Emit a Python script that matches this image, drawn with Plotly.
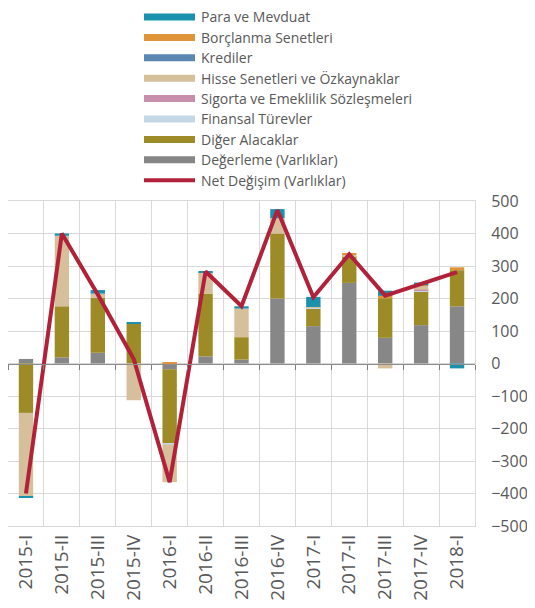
import plotly.graph_objects as go

categories = ["2015-I", "2015-II", "2015-III", "2015-IV", "2016-I", "2016-II", "2016-III",
              "2016-IV", "2017-I", "2017-II", "2017-III", "2017-IV", "2018-I"]

degerleme = [14, 19, 33, 0, -18, 22, 12, 200, 115, 248, 79, 118, 176]
diger = [-152, 157, 169, 123, -228, 192, 69, 200, 54, 82, 122, 105, 111]
finansal = [0, 0, 0, 0, -3, 0, 0, 0, 2, 0, 0, 2, 0]
sigorta = [0, 0, 0, 0, 0, 0, 0, 0, 0, 0, 0, 2, 0]
hisse = [-256, 217, 13, -113, -116, 66, 88, 47, 3, 4, -15, 12, 0]
krediler = [0, 0, 0, 0, 0, 0, 0, 0, 0, 0, 0, 0, 0]
borclanma = [0, 0, 0, 0, 3, 0, 0, 0, 0, 4, 7, 2, 9]
para = [-3, 7, 11, 3, 0, 3, 7, 28, 31, 0, 16, 8, -15]
net = [-400, 400, 212, 14, -365, 283, 176, 472, 204, 336, 209, 246, 281]

y_ticks = [500, 400, 300, 200, 100, 0, -100, -200, -300, -400, -500]

series = [
    ("Değerleme (Varlıklar)", degerleme, "#878787"),
    ("Diğer Alacaklar", diger, "#9c8b26"),
    ("Finansal Türevler", finansal, "#c6d7e8"),
    ("Sigorta ve Emeklilik Sözleşmeleri", sigorta, "#c78fab"),
    ("Hisse Senetleri ve Özkaynaklar", hisse, "#d6bf9b"),
    ("Krediler", krediler, "#5d87b3"),
    ("Borçlanma Senetleri", borclanma, "#df9439"),
    ("Para ve Mevduat", para, "#1a92ad"),
]
net_name = "Net Değişim (Varlıklar)"
net_color = "#b1223a"

fig = go.Figure()
for name, vals, color in series:
    fig.add_trace(go.Bar(x=categories, y=vals, name=name, marker_color=color,
                         marker_line_width=0, width=0.4, showlegend=False))
fig.add_trace(go.Scatter(x=categories, y=net, name=net_name, mode="lines",
                         line=dict(color=net_color, width=4), showlegend=False,
                         xaxis="x2"))

# Page body has an 8px margin; work in page pixels and convert.
OFF = 8
W, H = 535 - OFF, 608 - OFF
PL, PR, PT, PB = 8, 475, 201, 526   # plot box in page pixels
L, R, T, B = PL - OFF, W - (PR - OFF), PT - OFF, H - (PB - OFF)
pw, ph = W - L - R, H - T - B

def px(x):
    return (x - OFF - L) / pw

def py(y):
    return (H - B - (y - OFF)) / ph

legend_order = list(reversed(series)) + [(net_name, None, net_color)]
for i, (name, _, color) in enumerate(legend_order):
    yc = 17 + i * 20.4
    if name == net_name:
        fig.add_shape(type="line", xref="paper", yref="paper",
                      x0=px(144), x1=px(195), y0=py(yc), y1=py(yc),
                      line=dict(color=color, width=4))
    else:
        fig.add_shape(type="rect", xref="paper", yref="paper",
                      x0=px(144), x1=px(195), y0=py(yc - 3.5), y1=py(yc + 3.5),
                      fillcolor=color, line_width=0)
    fig.add_annotation(text=name, xref="paper", yref="paper", x=px(199), y=py(yc),
                       xanchor="left", yanchor="middle", showarrow=False,
                       font=dict(size=14, color="#595959"))

fig.update_layout(
    width=W, height=H,
    margin=dict(l=L, r=R, t=T, b=B, autoexpand=False),
    barmode="relative",
    paper_bgcolor="white", plot_bgcolor="white",
    font=dict(family="Open Sans", color="#595959"),
    showlegend=False,
    xaxis=dict(type="category", categoryorder="array", categoryarray=categories,
               tickson="boundaries", showgrid=True, gridcolor="#d9d9d9", gridwidth=1,
               tickangle=-90, tickfont=dict(size=19, color="#595959"), automargin=False,
               showline=True, linecolor="#d9d9d9", mirror=True, ticks="", ticklen=0),
    xaxis2=dict(type="category", categoryorder="array", categoryarray=categories,
                matches="x", overlaying="x", anchor="free", position=0.5,
                tickson="boundaries", ticks="outside", ticklen=5, tickcolor="#7f7f7f",
                showticklabels=False, showgrid=False, showline=True, linecolor="#8c8c8c",
                linewidth=1.3, automargin=False),
    yaxis=dict(range=[-500, 500], tickvals=y_ticks, side="right", showgrid=True,
               gridcolor="#d9d9d9", zeroline=False, tickfont=dict(size=16, color="#595959"),
               showline=True, linecolor="#d9d9d9", mirror=True, ticklabelstandoff=12,
               automargin=False),
)

fig.write_html("out.html")
